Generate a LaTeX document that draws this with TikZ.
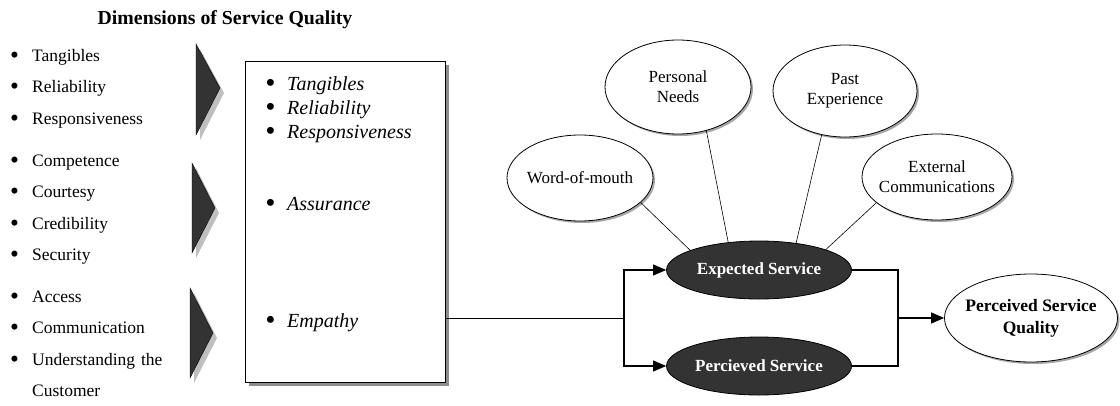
\documentclass[tikz,border=0pt]{standalone}
\usepackage{fontspec}
\setmainfont{Liberation Serif}
\usetikzlibrary{arrows.meta,shapes.geometric,shadows,positioning}

\newcommand{\dimbullet}{\makebox[22pt][l]{\raisebox{-0.12em}{\scalebox{1.45}{\textbullet}}}}

\begin{document}
\begin{tikzpicture}[x=1pt,y=-1pt,>={Triangle[length=13pt,width=11pt]},
    node distance=31.5pt,
    dim/.style={text width=170pt,align=left,inner sep=0pt,text height=12pt,
      text depth=4pt,font=\fontsize{17.5}{21}\selectfont},
    qual/.style={text width=170pt,align=left,inner sep=0pt,text height=13pt,
      text depth=4pt,font=\fontsize{20}{24}\selectfont\itshape},
    factor/.style={ellipse,draw,thick,fill=white,align=center,inner xsep=-12pt,
      inner ysep=0pt,font=\fontsize{17}{20}\selectfont,
      drop shadow={shadow xshift=2pt,shadow yshift=-2pt,fill=black!35,opacity=1}},
    service/.style={ellipse,draw,thick,fill=black!80,text=white,inner sep=0pt,
      minimum width=185pt,minimum height=58pt,font=\fontsize{17}{20}\selectfont\bfseries},
    chevron/.style={fill=black!80,draw=black,
      drop shadow={shadow xshift=4pt,shadow yshift=-5pt,fill=black!25,opacity=1}},
    link/.style={semithick}]

\useasboundingbox (0,0) rectangle (1120,405);

\node[font=\fontsize{19.8}{22}\selectfont\bfseries] (title) at (225,20) {Dimensions of Service Quality};

% the ten dimensions
\node[dim,anchor=west] (tang) at (10,57) {\dimbullet Tangibles};
\node[dim] (reli) [below of=tang] {\dimbullet Reliability};
\node[dim] (resp) [below of=reli] {\dimbullet Responsiveness};

\node[dim,anchor=west] (comp) at (10,162) {\dimbullet Competence};
\node[dim] (cour) [below of=comp] {\dimbullet Courtesy};
\node[dim] (cred) [below of=cour] {\dimbullet Credibility};
\node[dim] (secu) [below of=cred] {\dimbullet Security};

\node[dim,anchor=west] (acce) at (10,298) {\dimbullet Access};
\node[dim] (comm) [below of=acce] {\dimbullet Communication};
\node[dim] (unde) [below of=comm] {\dimbullet Understanding the};
\node[dim] (cust) [below of=unde] {\hspace*{22pt}Customer};

\path[chevron] (196,44) -- (220,88) -- (196,135) -- cycle;
\path[chevron] (192,163) -- (215,208) -- (192,253) -- cycle;
\path[chevron] (190,288) -- (213,333) -- (190,378) -- cycle;

% SERVQUAL box
\node[draw,thick,fill=white,minimum width=200pt,minimum height=321pt,inner sep=0pt,
  drop shadow={shadow xshift=4pt,shadow yshift=-4pt,fill=black!45,opacity=1}]
  (box) at (345,221.5) {};

\node[qual,anchor=west] (qtang) at (265,86) {\dimbullet Tangibles};
\node[qual,node distance=24pt] (qreli) [below of=qtang] {\dimbullet Reliability};
\node[qual,node distance=24pt] (qresp) [below of=qreli] {\dimbullet Responsiveness};
\node[qual,anchor=west] (qassu) at (265,206) {\dimbullet Assurance};
\node[qual,anchor=west] (qempa) at (265,323) {\dimbullet Empathy};

% gap model
\node[factor,minimum width=146pt,minimum height=86pt] (wom) at (580,178) {Word-of-mouth};
\node[factor,minimum width=146pt,minimum height=94pt] (needs) at (678,87) {Personal\\Needs};
\node[factor,minimum width=144pt,minimum height=92pt] (past) at (845,91) {Past\\Experience};
\node[factor,minimum width=150pt,minimum height=86pt] (extcom) at (937,177) {External\\Communications};

\node[service] (expserv) at (759,270) {Expected Service};
\node[service] (percserv) at (759,366) {Percieved Service};

\node[factor,font=\fontsize{17.5}{22}\selectfont\bfseries,minimum width=173pt,
  minimum height=88pt] (psq) at (1031,318) {Perceived Service\\Quality};

\draw[link] (wom.-22) -- (expserv.164);
\draw[link] (needs.-57) -- (expserv.138);
\draw[link] (past.-118) -- (expserv.36);
\draw[link] (extcom.203) -- (expserv.17);

\coordinate (split) at (624,318);
\coordinate (merge) at (898,318);

\draw[semithick] (box.east |- split) -- (split);
\draw[very thick,->] (split) |- (expserv);
\draw[very thick,->] (split) |- (percserv);
\draw[very thick] (expserv) -| (merge) |- (percserv);
\draw[very thick,->] (merge) -- (psq);

\end{tikzpicture}
\end{document}
